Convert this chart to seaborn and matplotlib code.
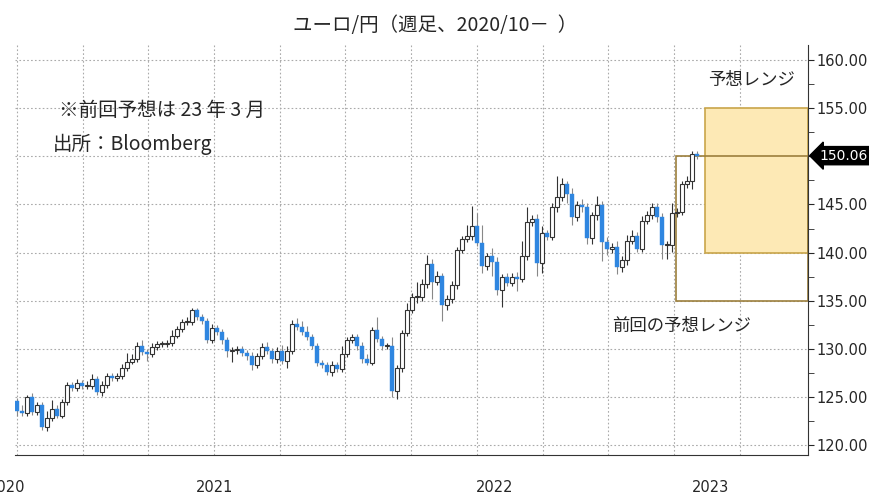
import matplotlib
matplotlib.use("Agg")
import matplotlib.pyplot as plt
import matplotlib.patches as mpatches
from matplotlib import font_manager
import seaborn as sns
import numpy as np

cjk_files = sorted(f for f in font_manager.findSystemFonts() if "NotoSansCJK" in f)
cjk_files = [f for f in cjk_files if "Regular" in f] or cjk_files
jp_font = "Noto Sans CJK JP"
if cjk_files:
    font_manager.fontManager.addfont(cjk_files[0])
    jp_font = font_manager.FontProperties(fname=cjk_files[0]).get_name()

# weekly EUR/JPY closes
first_open = 124.6
closes = [
    123.6, 123.4, 125.0, 123.5, 124.2, 121.9, 122.8, 123.8, 123.1, 124.5,
    126.3, 126.0, 126.5, 126.2, 126.2, 126.9, 125.5, 126.3, 127.2, 127.0,
    127.2, 128.0, 128.7, 129.0, 130.3, 129.7, 129.5, 130.2, 130.5, 130.5,
    130.6, 131.4, 132.1, 132.8, 132.8, 134.0, 133.3, 132.9, 130.9, 132.2,
    131.8, 130.9, 129.8, 129.9, 130.0, 129.6, 129.3, 128.3, 129.3, 130.2,
    129.8, 129.0, 129.8, 128.8, 129.8, 132.6, 132.3, 131.8, 131.2,
    130.3, 128.6, 128.3, 127.6, 128.3, 127.9, 129.5, 130.9, 131.3, 130.3,
    129.0, 128.6, 132.0, 131.0, 130.3, 130.3, 125.6, 128.0, 131.7, 134.0,
    135.4, 135.4, 136.7, 138.8, 137.0, 137.6, 134.6, 135.2, 136.6, 140.3,
    141.4, 141.7, 142.8, 141.0, 138.6, 139.7, 139.0, 136.1, 137.5, 136.9,
    137.5,
    137.3, 139.7, 143.2, 143.5, 138.9, 142.0, 141.6, 144.7, 145.8, 147.1,
    146.1, 143.7, 144.9, 144.7, 141.5, 143.9, 144.9, 141.1, 140.4, 140.6,
    138.5, 139.2, 141.2, 141.7, 140.4, 143.3, 143.9, 144.7, 143.7, 140.8,
    140.8, 144.1, 144.2, 147.1, 147.4, 150.2, 150.06,
]
wick_hi = [
    0.3, 0.6, 0.2, 0.4, 0.3, 0.3, 0.8, 0.9, 0.4, 0.3,
    0.3, 0.3, 0.4, 0.3, 0.5, 0.5, 0.3, 0.4, 0.3, 0.3,
    0.3, 0.4, 0.9, 0.5, 0.4, 0.6, 0.3, 0.4, 0.3, 0.3,
    0.3, 0.6, 0.3, 0.3, 0.5, 0.3, 0.3, 0.3, 0.3, 0.4,
    0.3, 0.3, 0.3, 0.3, 0.3, 0.3, 0.3, 0.4, 0.3, 0.4,
    0.5, 0.3, 0.4, 0.6, 0.5, 0.4, 0.6, 0.6, 0.6,
    0.4, 0.3, 0.3, 0.4, 0.5, 0.4, 0.8, 0.4, 0.3, 0.3,
    0.4, 0.5, 0.3, 1.3, 0.4, 0.3, 1.0, 0.3, 0.3, 0.8,
    0.4, 1.6, 0.6, 1.0, 0.5, 0.5, 0.3, 0.4, 0.5, 0.3,
    0.3, 1.2, 2.0, 1.3, 1.9, 0.3, 0.8, 0.6, 0.3, 0.4,
    0.4,
    0.5, 1.5, 1.5, 0.4, 0.5, 0.8, 0.4, 0.5, 2.2, 0.6,
    0.3, 0.6, 0.5, 0.7, 0.5, 0.3, 1.0, 0.5, 0.5, 0.4,
    0.6, 0.5, 0.6, 0.6, 0.4, 0.5, 0.4, 0.5, 0.5, 0.4,
    0.4, 1.0, 0.4, 0.3, 0.5, 0.3, 0.3,
]
wick_lo = [
    0.5, 0.3, 0.3, 0.3, 0.3, 0.3, 0.4, 0.3, 0.3, 0.3,
    0.3, 0.3, 0.3, 0.3, 0.3, 0.3, 0.3, 0.4, 0.3, 0.3,
    0.3, 0.3, 0.3, 0.3, 0.3, 0.3, 0.7, 0.3, 0.3, 0.3,
    0.3, 0.3, 0.3, 0.3, 0.3, 0.3, 0.3, 0.3, 0.3, 0.3,
    0.3, 0.4, 0.6, 1.1, 0.4, 0.3, 0.4, 0.5, 0.3, 0.3,
    0.3, 0.4, 0.4, 0.3, 0.8, 0.3, 0.3, 0.3, 0.3,
    0.3, 0.4, 0.3, 0.3, 0.4, 0.3, 0.3, 0.3, 0.3, 0.4,
    0.4, 0.3, 0.3, 0.3, 0.4, 0.3, 0.6, 0.8, 0.4, 0.3,
    0.3, 0.6, 0.4, 0.4, 1.8, 0.4, 1.7, 0.5, 0.4, 0.4,
    0.3, 0.3, 0.4, 0.3, 0.7, 0.4, 1.4, 0.5, 1.7, 0.4,
    0.4,
    1.3, 0.3, 0.5, 0.4, 1.3, 1.0, 0.3, 0.3, 0.5, 0.4,
    1.0, 0.8, 0.4, 0.5, 0.6, 0.6, 0.5, 2.0, 0.6, 0.4,
    0.7, 0.5, 0.5, 0.3, 0.3, 0.3, 0.3, 0.4, 0.5, 1.5,
    1.5, 0.7, 0.4, 0.3, 0.4, 0.8, 0.3,
]

prev_range = (135, 150)
new_range = (140, 155)
year_labels = ["2020", "2021", "2022", "2023"]
year_label_pos = [-2.0, 39.6, 95.6, 138.6]
year_sep_pos = [13.2, 67.6, 120.0]

opens = [first_open] + closes[:-1]
idx = np.arange(len(closes))

sns.set_style("white")
plt.rcParams["font.family"] = [jp_font, "DejaVu Sans"]
fig, ax = plt.subplots(figsize=(8.7, 5.04), dpi=100)
fig.subplots_adjust(left=0.017, right=0.929, top=0.91, bottom=0.097)

up_col, dn_col = "white", "#2f86e0"
for i, o, c, wh, wl in zip(idx, opens, closes, wick_hi, wick_lo):
    top, bot = max(o, c), min(o, c)
    wick_c = "#333333" if c >= o else "#888888"
    ax.vlines(i, bot - wl, top + wh, color=wick_c, lw=0.8, zorder=3)
    h = max(top - bot, 0.12)
    if c >= o:
        ax.add_patch(mpatches.Rectangle((i - 0.35, bot), 0.7, h, facecolor=up_col,
                                        edgecolor="#333333", lw=0.8, zorder=4))
    else:
        ax.add_patch(mpatches.Rectangle((i - 0.38, bot), 0.76, h, facecolor=dn_col,
                                        edgecolor=dn_col, lw=0.3, zorder=4))

xmax = 158.2
# previous forecast range (outline) and new range (filled)
ax.add_patch(mpatches.Rectangle((131.8, prev_range[0]), xmax - 131.8, prev_range[1] - prev_range[0],
                                facecolor="none", edgecolor="#9c7f3c", lw=1.2, zorder=2))
ax.add_patch(mpatches.Rectangle((137.6, new_range[0]), xmax - 137.6, new_range[1] - new_range[0],
                                facecolor="#fde9b5", edgecolor="#c9a54a", lw=1.2, zorder=1))

ax.set_xlim(-0.4, xmax)
ax.set_ylim(119.0, 161.5)
ax.yaxis.tick_right()
yt = np.arange(120, 161, 5)
ax.set_yticks(yt)
ax.set_yticklabels(["" if v == 150 else f"{v:.2f}" for v in yt], fontsize=10.5,
                   fontfamily="DejaVu Sans")
ax.set_yticks(np.arange(122.5, 160, 5), minor=True)
ax.tick_params(axis="y", which="both", direction="out", length=4, pad=2)
for v in yt:
    ax.axhline(v, color="#aaaaaa", lw=0.8, ls=(0, (1.5, 2)), zorder=0)
for k in range(12):
    ax.axvline(13.14 * k, color="#aaaaaa", lw=0.8, ls=(0, (1.5, 2)), zorder=0)

ax.set_xticks(year_sep_pos)
ax.set_xticklabels([])
ax.tick_params(axis="x", direction="out", length=8, color="#999999")
for lab, p in zip(year_labels, year_label_pos):
    ax.text(p, -0.08, lab, transform=ax.get_xaxis_transform(), ha="center",
            va="center", fontsize=10.5, fontfamily="DejaVu Sans")

for s in ["top", "left"]:
    ax.spines[s].set_visible(False)
ax.spines["right"].set_color("#333333")
ax.spines["bottom"].set_color("#333333")

last = closes[-1]
ax.annotate(f"{last:.2f}", xy=(1.0, last), xycoords=("axes fraction", "data"),
            xytext=(8, 0), textcoords="offset points", va="center", ha="left",
            fontsize=10, color="white", fontfamily="DejaVu Sans",
            bbox=dict(boxstyle="larrow,pad=0.15", fc="black", ec="black"))

ax.text(8.5, 154.8, "※前回予想は 23 年 3 月", va="center", fontsize=14)
ax.text(7.3, 151.2, "出所：Bloomberg", va="center", fontsize=14)
ax.text(146.8, 157.9, "予想レンジ", ha="center", va="center", fontsize=12.5)
ax.text(132.8, 132.4, "前回の予想レンジ", ha="center", va="center", fontsize=12.5)

fig.suptitle("ユーロ/円（週足、2020/10－  ）", fontsize=14, y=0.97)
fig.savefig("out.png", dpi=100)
